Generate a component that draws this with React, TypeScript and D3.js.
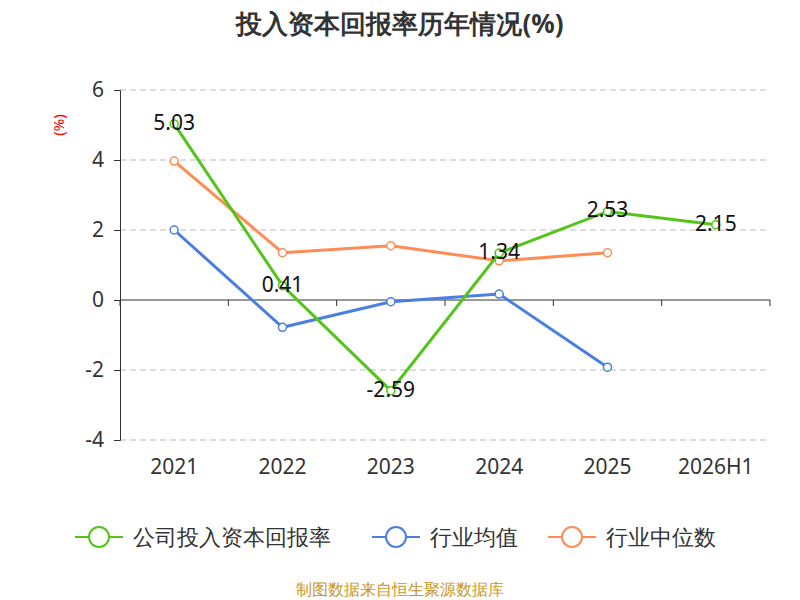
import React, { useEffect, useRef } from "react"
import * as d3 from "d3"

const categories = ["2021", "2022", "2023", "2024", "2025", "2026H1"]
const companyValues = [5.03, 0.41, -2.59, 1.34, 2.53, 2.15]
const industryAvg = [2.0, -0.78, -0.05, 0.17, -1.92]
const industryMedian = [3.97, 1.35, 1.55, 1.12, 1.35]
const yTicks = [-4, -2, 0, 2, 4, 6]
const seriesNames = ["公司投入资本回报率", "行业均值", "行业中位数"]
const seriesColors = ["#52c41a", "#4a7fe0", "#ff8c55"]

const App = () => {
  const ref = useRef<SVGSVGElement>(null)

  useEffect(() => {
    const svg = d3.select(ref.current)
    svg.selectAll("*").remove()
    const font = "'Noto Sans', sans-serif"

    const x = d3.scaleBand().domain(categories).range([120, 770])
    const y = d3.scaleLinear().domain([-4, 6]).range([440, 90])

    svg.append("text").text("投入资本回报率历年情况(%)")
      .attr("x", 400).attr("y", 33).attr("text-anchor", "middle")
      .attr("font-size", 26).attr("font-weight", "bold").attr("fill", "#333")
      .attr("font-family", font)

    // grid
    svg.append("g").selectAll("line").data(yTicks.filter(t => t !== 0)).join("line")
      .attr("x1", 120).attr("x2", 770)
      .attr("y1", d => y(d)).attr("y2", d => y(d))
      .attr("stroke", "#bbb").attr("stroke-dasharray", "6,4")

    // y axis
    const ya = svg.append("g").attr("transform", "translate(120,0)")
      .call(d3.axisLeft(y).tickValues(yTicks).tickSize(6).tickPadding(10).tickFormat(d => String(d)))
    ya.select(".domain").attr("stroke", "#333")
    ya.selectAll("line").attr("stroke", "#333")
    ya.selectAll("text").attr("font-size", 21).attr("fill", "#333").attr("font-family", font)

    svg.append("text").text("(%)")
      .attr("transform", "translate(64,125) rotate(-90)")
      .attr("text-anchor", "middle").attr("font-size", 15).attr("fill", "red")
      .attr("font-family", font)

    // x axis at 0
    svg.append("line").attr("x1", 120).attr("x2", 770)
      .attr("y1", y(0)).attr("y2", y(0)).attr("stroke", "#333")
    const edges = categories.map(c => x(c)!).concat([770])
    svg.append("g").selectAll("line").data(edges).join("line")
      .attr("x1", d => d).attr("x2", d => d)
      .attr("y1", y(0)).attr("y2", y(0) + 6).attr("stroke", "#333")
    svg.append("g").selectAll("text").data(categories).join("text")
      .text(d => d).attr("x", d => x(d)! + x.bandwidth() / 2).attr("y", 474)
      .attr("text-anchor", "middle").attr("font-size", 21).attr("fill", "#333")
      .attr("font-family", font)

    const cx = (i: number) => x(categories[i])! + x.bandwidth() / 2
    const line = d3.line<number>().x((_, i) => cx(i)).y(d => y(d))
    const all = [companyValues, industryAvg, industryMedian]
    ;[2, 1, 0].forEach(s => {
      const data = all[s]
      svg.append("path").attr("d", line(data)).attr("fill", "none")
        .attr("stroke", seriesColors[s]).attr("stroke-width", 3)
      svg.append("g").selectAll("circle").data(data).join("circle")
        .attr("cx", (_, i) => cx(i)).attr("cy", d => y(d)).attr("r", 4)
        .attr("fill", "#fff").attr("stroke", seriesColors[s]).attr("stroke-width", 1.5)
    })
    svg.append("g").selectAll("text").data(companyValues).join("text")
      .text(d => d.toFixed(2)).attr("x", (_, i) => cx(i)).attr("y", d => y(d) + 6)
      .attr("text-anchor", "middle").attr("font-size", 21).attr("fill", "#111")
      .attr("font-family", font)

    // legend
    const legendX = [75, 372, 548]
    seriesNames.forEach((n, i) => {
      const g = svg.append("g").attr("transform", `translate(${legendX[i]},537)`)
      g.append("line").attr("x1", 0).attr("x2", 48).attr("stroke", seriesColors[i]).attr("stroke-width", 2)
      g.append("circle").attr("cx", 24).attr("r", 10).attr("fill", "#fff")
        .attr("stroke", seriesColors[i]).attr("stroke-width", 2)
      g.append("text").text(n).attr("x", 58).attr("y", 8).attr("font-size", 22)
        .attr("fill", "#333").attr("font-family", font)
    })

    svg.append("text").text("制图数据来自恒生聚源数据库")
      .attr("x", 400).attr("y", 595).attr("text-anchor", "middle")
      .attr("font-size", 16).attr("fill", "#c8962a").attr("font-family", font)
  }, [])

  return <svg ref={ref} width={800} height={600} style={{ position: "absolute", left: 0, top: 0 }} />
}

export default App
